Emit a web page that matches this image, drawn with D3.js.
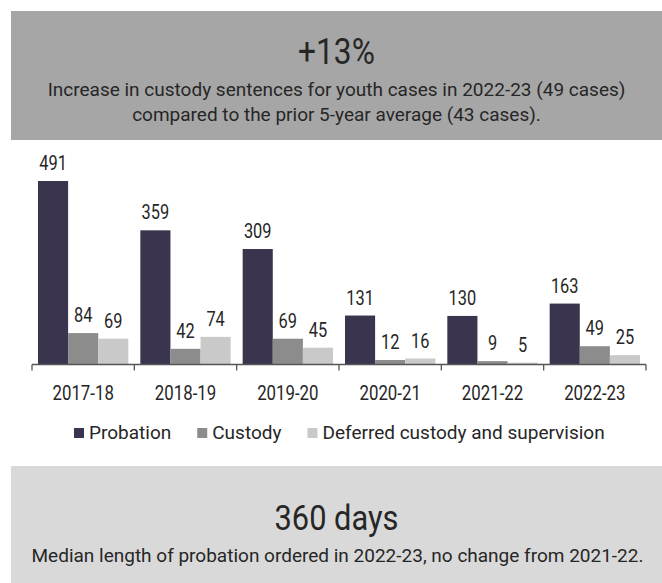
<!DOCTYPE html>
<html>
<head>
<meta charset="utf-8">
<script src="https://cdn.jsdelivr.net/npm/d3@7"></script>
<style>
  html, body { margin: 0; padding: 0; background: #fff; }
  svg { display: block; }
  text { font-family: Roboto, "Liberation Sans", sans-serif; fill: #262626; }
</style>
</head>
<body>
<svg id="chart" width="662" height="583"></svg>
<script>
const years = ["2017-18", "2018-19", "2019-20", "2020-21", "2021-22", "2022-23"];
const seriesNames = ["Probation", "Custody", "Deferred custody and supervision"];
const probation = [491, 359, 309, 131, 130, 163];
const custody = [84, 42, 69, 12, 9, 49];
const deferred = [69, 74, 45, 16, 5, 25];
const colors = ["#3a344f", "#8c8c8c", "#c9c9c9"];
const headline = "+13%";
const headlineText = ["Increase in custody sentences for youth cases in 2022-23 (49 cases)",
                      "compared to the prior 5-year average (43 cases)."];
const footline = "360 days";
const footText = "Median length of probation ordered in 2022-23, no change from 2021-22.";

const svg = d3.select("#chart");
const CONDENSE = 0.86;
function condense(sel, f) {
  sel.each(function () {
    const w = this.getComputedTextLength();
    d3.select(this).attr("textLength", w * (f || CONDENSE)).attr("lengthAdjust", "spacingAndGlyphs");
  });
  return sel;
}

// Top box
const cx = 336.5;
svg.append("rect").attr("x", 11).attr("y", 11).attr("width", 651).attr("height", 129).attr("fill", "#a6a6a6");
condense(svg.append("text").attr("x", cx).attr("y", 64).attr("text-anchor", "middle")
  .attr("font-size", 36).text(headline), 0.88);
headlineText.forEach((t, i) => {
  svg.append("text").attr("x", cx).attr("y", 96 + i * 25).attr("text-anchor", "middle")
    .attr("font-size", 19).text(t);
});

// Bottom box
svg.append("rect").attr("x", 11).attr("y", 466).attr("width", 651).attr("height", 117).attr("fill", "#d9d9d9");
condense(svg.append("text").attr("x", cx).attr("y", 530).attr("text-anchor", "middle")
  .attr("font-size", 35).text(footline), 0.88);
svg.append("text").attr("x", cx + 1).attr("y", 562).attr("text-anchor", "middle")
  .attr("font-size", 19).text(footText);

// Chart
const baseY = 364.5;
const x = d3.scaleBand().domain(years).range([32, 646]).padding(0);
const inner = d3.scaleBand().domain(seriesNames).range([6, x.bandwidth() - 6]).padding(0);
const y = d3.scaleLinear().domain([0, 491]).range([baseY, 181]);

const data = years.map((yr, i) => ({ year: yr, values: [probation[i], custody[i], deferred[i]] }));

const groups = svg.append("g").selectAll("g").data(data).join("g")
  .attr("transform", d => `translate(${x(d.year)},0)`);

groups.selectAll("rect").data(d => d.values.map((v, j) => ({ v, s: seriesNames[j], j })))
  .join("rect")
  .attr("x", d => inner(d.s))
  .attr("width", inner.bandwidth())
  .attr("y", d => y(d.v))
  .attr("height", d => baseY - y(d.v))
  .attr("fill", d => colors[d.j]);

groups.selectAll("text.val").data(d => d.values.map((v, j) => ({ v, s: seriesNames[j], j })))
  .join("text").attr("class", "val")
  .attr("x", d => inner(d.s) + inner.bandwidth() / 2)
  .attr("y", d => y(d.v) - 11)
  .attr("text-anchor", "middle")
  .attr("font-size", 19.5)
  .text(d => d.v)
  .call(condense, 0.84);

// Axis
const axisG = svg.append("g").attr("transform", `translate(0,${baseY})`);
const axis = d3.axisBottom(x).tickSize(0).tickPadding(21);
axisG.call(axis);
axisG.select(".domain").attr("stroke", "#555").attr("stroke-width", 1.3).attr("d", `M32,0H646`);
axisG.selectAll(".tick text").attr("font-size", 20.5).attr("fill", "#262626")
  .style("font-family", "Roboto, sans-serif").attr("dy", "0.71em").call(condense, 0.82);
const edges = years.map(d => x(d)).concat([x.range()[1]]);
axisG.selectAll("line.edge").data(edges).join("line").attr("class", "edge")
  .attr("x1", d => d).attr("x2", d => d).attr("y1", 0).attr("y2", 6)
  .attr("stroke", "#555").attr("stroke-width", 1.3);

// Legend
const legend = svg.append("g").attr("transform", "translate(74,428)");
let lx = 0;
seriesNames.forEach((name, i) => {
  const g = legend.append("g").attr("transform", `translate(${lx},0)`);
  g.append("rect").attr("width", 10).attr("height", 10).attr("fill", colors[i]);
  const t = g.append("text").attr("x", 15).attr("y", 11).attr("font-size", 19).text(name);
  lx += 15 + t.node().getComputedTextLength() + 26;
});
</script>
</body>
</html>
